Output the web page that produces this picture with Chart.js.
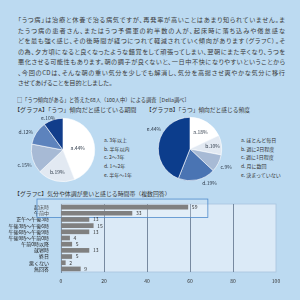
<!DOCTYPE html>
<html>
<head>
<meta charset="utf-8">
<script src="https://cdn.jsdelivr.net/npm/chart.js@4.4.1/dist/chart.umd.min.js"></script>
<style>
  body { margin: 0; width: 300px; height: 300px; background: #bcdaf1; position: relative; overflow: hidden;
         font-family: "Noto Sans CJK JP", sans-serif; color: #3b3b3b; }
  .txt { position: absolute; left: 18px; top: 15px; width: 267px; font-size: 6.2px; line-height: 10.55px;
         font-feature-settings: "palt"; }
  .txt div { white-space: nowrap; text-align: justify; text-align-last: justify; }
  .txt div.last { text-align-last: left; }
  .hd { position: absolute; font-size: 5.4px; white-space: nowrap; color: #333; transform-origin: 0 0; }
  .legend { position: absolute; font-size: 5px; line-height: 8.7px; color: #333; white-space: nowrap; }
  canvas { position: absolute; }
</style>
</head>
<body>
<div class="txt">
  <div>「うつ病」は治療と休養で治る病気ですが、再発率が高いことはあまり知られていません。ま</div>
  <div>たうつ病の患者さん、またはうつ予備軍の約半数の人が、起床時に落ち込みや倦怠感な</div>
  <div>どを最も強く感じ、その後時間が経つにつれて軽減されていく傾向があります（グラフC）。そ</div>
  <div>の為、夕方頃になると良くなったような錯覚をして頑張ってしまい、翌朝にまた辛くなり、うつを</div>
  <div>悪化させる可能性もあります。朝の調子が良くないと、一日中不快になりやすいということから</div>
  <div>、今回のCDは、そんな朝の重い気分を少しでも解消し、気分を高揚させ爽やかな気分に移行</div>
  <div class="last">させてあげることを目的としました。</div>
</div>
<div class="hd" data-w="173" style="left:17px;top:96px;">□「うつ傾向がある」と答えた68人（100人中）による調査［Della調べ］</div>
<div class="hd" data-w="122" style="left:14px;top:106px;">【グラフA】「うつ」傾向だと感じている期間</div>
<div class="hd" data-w="104" style="left:146px;top:106px;">【グラフB】「うつ」傾向だと感じる頻度</div>
<div class="hd" data-w="157" style="left:14px;top:190px;">【グラフC】気分や体調が悪いと感じる時間帯（複数回答）</div>
<div class="legend" id="legendA" style="left:104px;top:136px;"></div>
<div class="legend" id="legendB" style="left:241px;top:136px;"></div>

<canvas id="pieA" width="126" height="80" style="left:0;top:110px;"></canvas>
<canvas id="pieB" width="100" height="80" style="left:140px;top:109px;"></canvas>
<canvas id="barC" width="300" height="96" style="left:0;top:196px;"></canvas>

<script>
const sliceLetters = ['a', 'b', 'c', 'd', 'e'];
const periodLabels = ['3年以上', '半年以内', '2〜3年', '1〜2年', '半年〜1年'];
const periodValues = [44, 19, 15, 12, 10];
const freqLabels = ['ほとんど毎日', '週に2日程度', '週に1日程度', '月に数回', '決まっていない'];
const freqValues = [18, 10, 9, 19, 44];
const timeLabels = ['起床時', '午前中', '正午〜午後3時', '午後3時〜午後6時', '午後6時〜午後9時',
                    '午後9時〜午前0時', '午前0時以降', '就寝時', '終日', '悪くない', '無回答'];
const timeValues = [59, 33, 13, 15, 13, 4, 5, 13, 5, 2, 9];
const timeTicks = [0, 20, 40, 60, 80, 100];

Chart.defaults.font.family = '"Noto Sans CJK JP", sans-serif';

// squeeze headings to the width they have in the layout
document.querySelectorAll('.hd').forEach(el => {
    const r = Number(el.dataset.w) / el.offsetWidth;
    el.style.transform = `scaleX(${r})`;
});

function fillLegend(id, labels) {
    document.getElementById(id).innerHTML =
        labels.map((l, i) => `<div>${sliceLetters[i]}. ${l}</div>`).join('');
}
fillLegend('legendA', periodLabels);
fillLegend('legendB', freqLabels);

// slice labels, placed along each slice's middle angle
const pieLabels = {
    id: 'pieLabels',
    afterDatasetsDraw(chart, args, opts) {
        const ctx = chart.ctx;
        const data = chart.data.datasets[0].data;
        ctx.save();
        ctx.font = '5px "Noto Sans CJK JP"';
        ctx.fillStyle = '#2f3b4a';
        ctx.textAlign = 'center';
        ctx.textBaseline = 'middle';
        chart.getDatasetMeta(0).data.forEach((arc, i) => {
            const p = arc.getProps(['x', 'y', 'startAngle', 'endAngle', 'outerRadius'], true);
            const a = (p.startAngle + p.endAngle) / 2 + opts.shift[i] * Math.PI / 180;
            const r = p.outerRadius * opts.dist[i];
            ctx.fillText(sliceLetters[i] + '.' + data[i] + '%', p.x + Math.cos(a) * r, p.y + Math.sin(a) * r);
        });
        ctx.restore();
    }
};

function makePie(id, values, colors, pad, dist, shift) {
    return new Chart(document.getElementById(id), {
        type: 'pie',
        data: {
            labels: sliceLetters,
            datasets: [{
                data: values,
                backgroundColor: colors,
                borderColor: '#ffffff',
                borderWidth: 0.6
            }]
        },
        options: {
            responsive: false,
            animation: false,
            layout: { padding: pad },
            plugins: {
                legend: { display: false },
                tooltip: { enabled: false },
                pieLabels: { dist: dist, shift: shift }
            }
        },
        plugins: [pieLabels]
    });
}

var pieA = makePie('pieA', periodValues,
    ['#ffffff', '#e2e9f2', '#a7bad5', '#5d83bd', '#113d8b'],
    { left: 31, right: 31, top: 8, bottom: 8 },
    [0.47, 0.72, 1.3, 1.3, 1.1], [3, 2, -5, -7, -7]);
var pieB = makePie('pieB', freqValues,
    ['#ffffff', '#e2e9f2', '#a7bad5', '#4a74b3', '#0c3d8c'],
    { left: 18, right: 18, top: 8, bottom: 8 },
    [0.62, 0.72, 1.28, 1.25, 1.3], [0, 0, 0, -17, 18]);

// plot background and the box round the first two rows
const plotDecor = {
    id: 'plotDecor',
    beforeDraw(chart) {
        const { ctx, chartArea: a } = chart;
        ctx.save();
        ctx.fillStyle = '#dbeaf7';
        ctx.fillRect(a.left, a.top, a.right - a.left, a.bottom - a.top);
        ctx.strokeStyle = '#a9c4de';
        ctx.lineWidth = 0.8;
        ctx.strokeRect(a.left, a.top, a.right - a.left, a.bottom - a.top);
        ctx.restore();
    },
    beforeDatasetsDraw(chart) {
        const { ctx, chartArea: a, scales } = chart;
        const y0 = scales.y.getPixelForValue(0);
        const y1 = scales.y.getPixelForValue(1);
        const step = y1 - y0;
        const left = a.left - 24;
        const right = scales.x.getPixelForValue(timeValues[0]) + 20;
        const top = y0 - step * 1.3;
        const bottom = y1 + step * 0.7;
        ctx.save();
        ctx.fillStyle = 'rgba(255,255,255,0.2)';
        ctx.fillRect(left, top, right - left, bottom - top);
        ctx.strokeStyle = '#4f8bcb';
        ctx.lineWidth = 0.8;
        ctx.strokeRect(left, top, right - left, bottom - top);
        ctx.restore();
    },
    afterDatasetsDraw(chart) {
        const ctx = chart.ctx;
        const data = chart.data.datasets[0].data;
        ctx.save();
        ctx.font = '5px "Noto Sans CJK JP"';
        ctx.fillStyle = '#333';
        ctx.textBaseline = 'middle';
        chart.getDatasetMeta(0).data.forEach((bar, i) => {
            ctx.fillText(String(data[i]), bar.x + 4, bar.y);
        });
        ctx.restore();
    }
};

var timeChart = new Chart(document.getElementById('barC'), {
    type: 'bar',
    data: {
        labels: timeLabels,
        datasets: [{
            data: timeValues,
            backgroundColor: '#808080',
            barThickness: 4
        }]
    },
    options: {
        indexAxis: 'y',
        responsive: false,
        animation: false,
        layout: { padding: { left: 0, right: 24, top: 8, bottom: 0 } },
        plugins: {
            legend: { display: false },
            tooltip: { enabled: false }
        },
        scales: {
            x: {
                min: 0,
                max: 100,
                afterBuildTicks: (s) => { s.ticks = timeTicks.map(v => ({ value: v })); },
                afterFit: (s) => { s.height = 20; },
                ticks: { font: { size: 5 }, color: '#333', padding: 6 },
                grid: {
                    color: (c) => (c.tick && c.tick.value > 0 && c.tick.value < 100) ? '#5d7189' : 'rgba(0,0,0,0)',
                    lineWidth: 0.8,
                    drawTicks: false
                },
                border: { display: false }
            },
            y: {
                afterFit: (s) => { s.width = 61; },
                ticks: { font: { size: 5 }, color: '#222', padding: 4, autoSkip: false },
                grid: { display: false },
                border: { color: '#6a7f95', width: 0.8 }
            }
        }
    },
    plugins: [plotDecor]
});
</script>
</body>
</html>
